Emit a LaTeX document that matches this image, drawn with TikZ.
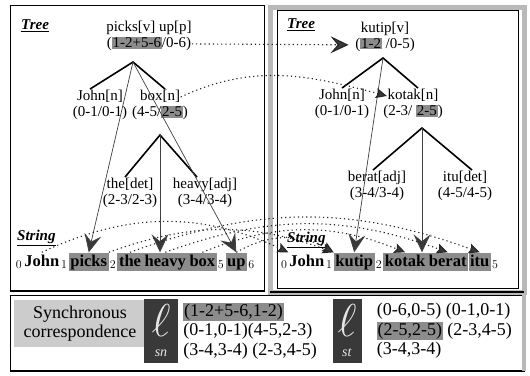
\documentclass[tikz,border=0pt]{standalone}
\usepackage{fontspec}
\setmainfont{Liberation Serif}
\usetikzlibrary{arrows.meta,positioning}
\definecolor{hlgray}{gray}{0.55}
\newcommand{\hlt}[1]{{\setlength{\fboxsep}{0.8pt}\colorbox{hlgray}{#1}}}

\begin{document}
\begin{tikzpicture}[
  x=1pt,y=-1pt,
  node distance=0pt,
  tlab/.style={font=\fontsize{15}{17}\selectfont,inner sep=0.5pt,text height=11pt,text depth=3.5pt},
  head/.style={font=\fontsize{15}{17}\selectfont\bfseries\itshape,inner sep=0pt,anchor=west},
  word/.style={font=\fontsize{16.5}{19}\selectfont\bfseries,inner xsep=0.8pt,inner ysep=1.5pt,text height=12pt,text depth=3.5pt},
  hword/.style={word,fill=hlgray,inner xsep=1.6pt},
  branch/.style={line width=1.6pt},
  t2s/.style={gray!50!black,line width=.7pt,-{Stealth[length=18pt,width=17pt,inset=7pt,fill=gray!45!black,line width=.8pt]}},
  wlink/.style={gray!30!black,line width=1.1pt,dash pattern=on 1.2pt off 3pt,-{Stealth[length=11pt,width=10pt,inset=2pt,fill=gray!45!black]}},
  panel/.style={draw,line width=.8pt},
  sync/.style={font=\fontsize{18}{19.5}\selectfont,inner sep=0pt},
  lbox/.style={fill=gray!45!black,minimum height=64pt,inner sep=0pt,text=gray!20,align=center,font=\fontsize{14}{14}\selectfont}
]
  \useasboundingbox (0,0) rectangle (530,375);

  \draw[panel] (10,5) rectangle (264,291);
  \draw[line width=2.5pt] (10,291) -- (264,291);
  \draw[gray!55,line width=5pt] (270,7) rectangle (524,292);
  \draw[panel] (277,10) rectangle (518,288);
  \draw[line width=2pt] (270,292) -- (524,292);
  \draw[panel] (10,295) rectangle (524,371);
  \draw[line width=2.5pt] (10,371) -- (524,371);
  \draw[gray!55,line width=4pt] (524,295) -- (524,371);

  \node[head] (ltree) at (21,26) {\underline{Tree}};
  \node[head] (rtree) at (287,25) {\underline{Tree}};
  \node[head] (lstr) at (17,238) {\underline{String}};
  \node[head] (rstr) at (287,240) {\underline{String}};

  \node[tlab] (lpicks) at (149,28) {picks[v] up[p]};
  \node[tlab,below=of lpicks] (lpicksN) {(\hlt{1-2+5-6}/0-6)};
  \node[tlab] (lJohn) at (100,97) {John[n]};
  \node[tlab,below=of lJohn] (lJohnN) {(0-1/0-1)};
  \node[tlab] (lbox) at (160,97) {box[n]};
  \node[tlab,below=of lbox] (lboxN) {(4-5/\hlt{2-5})};
  \node[tlab] (lthe) at (130,185) {the[det]};
  \node[tlab,below=of lthe] (ltheN) {(2-3/2-3)};
  \node[tlab] (lheavy) at (205,185) {heavy[adj]};
  \node[tlab,below=of lheavy] (lheavyN) {(3-4/3-4)};
  \coordinate (lpicksA) at (133,62);
  \coordinate (lboxA) at (160,135);
  \draw[branch] ([xshift=-10pt]lJohn.north) -- (lpicksA) -- ([xshift=5pt]lbox.north);
  \draw[branch] ([xshift=-5pt]lthe.north) -- (lboxA) -- ([xshift=-8pt]lheavy.north);

  \node[tlab] (rkutip) at (385,29) {kutip[v]};
  \node[tlab,below=of rkutip] (rkutipN) {(\hlt{1-2} /0-5)};
  \node[tlab] (rJohn) at (342,96) {John[n]};
  \node[tlab,below=of rJohn] (rJohnN) {(0-1/0-1)};
  \node[tlab] (rkotak) at (413,96) {kotak[n]};
  \node[tlab,below=of rkotak] (rkotakN) {(2-3/ \hlt{2-5})};
  \node[tlab] (rberat) at (377,178) {berat[adj]};
  \node[tlab,below=of rberat] (rberatN) {(3-4/3-4)};
  \node[tlab] (ritu) at (465,178) {itu[det]};
  \node[tlab,below=of ritu] (rituN) {(4-5/4-5)};
  \coordinate (rkutipA) at (383,58);
  \coordinate (rkotakA) at (422,128);
  \draw[branch] (rJohn.north) -- (rkutipA) -- ([xshift=5pt]rkotak.north);
  \draw[branch] ([xshift=-4pt]rberat.north) -- (rkotakA) -- ([xshift=7pt]ritu.north);

  \node[word,anchor=base west] (li0) at (15,266) {$_0$};
  \node[word,base right=of li0] (lw0) {John};
  \node[word,base right=of lw0] (li1) {$_1$};
  \node[hword,base right=of li1] (lw1) {picks};
  \node[word,base right=of lw1] (li2) {$_2$};
  \node[hword,base right=of li2] (lw2) {the};
  \node[hword,base right=of lw2] (lw3) {heavy};
  \node[hword,base right=of lw3] (lw4) {box};
  \node[word,base right=of lw4] (li5) {$_5$};
  \node[hword,base right=of li5] (lw5) {up};
  \node[word,base right=of lw5] (li6) {$_6$};

  \node[word,anchor=base west] (ri0) at (280,266) {$_0$};
  \node[word,base right=of ri0] (rw0) {John};
  \node[word,base right=of rw0] (ri1) {$_1$};
  \node[hword,base right=of ri1] (rw1) {kutip};
  \node[word,base right=of rw1] (ri2) {$_2$};
  \node[hword,base right=of ri2] (rw2) {kotak};
  \node[hword,base right=of rw2] (rw3) {berat};
  \node[hword,base right=of rw3] (rw4) {itu};
  \node[word,base right=of rw4] (ri5) {$_5$};

  \draw[t2s] (lpicksA) -- (lw1.north);
  \draw[t2s] (lpicksA) -- (lw5.north);
  \draw[t2s] (lboxA) -- (lboxA |- lw3.north);
  \draw[t2s] (rkutipA) -- (rw1.north);
  \draw[t2s] (rkotakA) -- (rkotakA |- rw3.north);

  \draw[wlink,-{Stealth[length=18pt,width=17pt,inset=7pt,fill=gray!45!black]},shorten >=6pt] (lpicksN.east) -- (rkutipN.west);
  \draw[wlink] (lbox.east) to[out=25,in=165] (rkotak.west);
  \draw[wlink] (lw0.north) to[bend left=25] (rw0.north west);
  \draw[wlink] (lw1.north east) to[bend left=20] (rw1.north west);
  \draw[wlink] (lw5.north) to[bend left=30] (rw1.north west);
  \draw[wlink] (lw2.north) to[bend left=20] (rw4.north);
  \draw[wlink] (lw3.north) to[bend left=20] (rw3.north);
  \draw[wlink] (lw4.north) to[bend left=22] (rw2.north);

  \node[sync,fill=gray!40,minimum width=132pt,minimum height=47pt,align=center] (syn) at (80,323.5) {Synchronous\\correspondence};
  \node[lbox,minimum width=34pt] (lsn) at (161,331) {\scalebox{3.2}{$\ell$}\\[6pt]\textit{sn}};
  \node[sync,anchor=west,align=left] (snpairs) at ([xshift=5pt]lsn.east) {\hlt{(1-2+5-6,1-2)}\\(0-1,0-1)(4-5,2-3)\\(3-4,3-4) (2-3,4-5)};
  \node[lbox,minimum width=29pt] (lst) at (347,331) {\scalebox{3.2}{$\ell$}\\[6pt]\textit{st}};
  \node[sync,anchor=west,align=left] (stpairs) at ([xshift=15pt]lst.east) {(0-6,0-5) (0-1,0-1)\\\hlt{(2-5,2-5)} (2-3,4-5)\\(3-4,3-4)};
\end{tikzpicture}
\end{document}
